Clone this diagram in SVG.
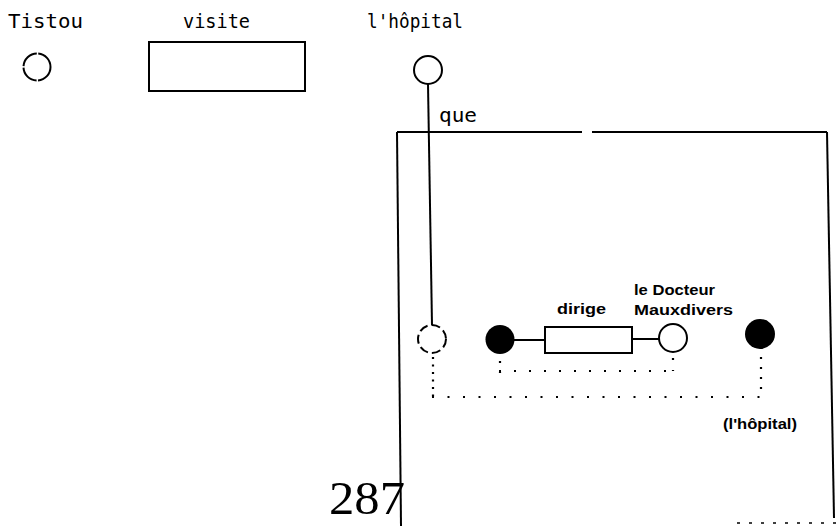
<svg xmlns="http://www.w3.org/2000/svg" width="838" height="526" viewBox="0 0 838 526">
<style>
.lbl{font-family:"DejaVu Sans Mono","Liberation Mono",monospace;font-size:20px;fill:#000}
.sm{font-family:"Liberation Sans",Arial,sans-serif;font-size:15px;font-weight:bold;fill:#000}
.ln{stroke:#000;stroke-width:2;fill:none}
.dot{stroke:#000;stroke-width:2.2;fill:none;stroke-linecap:butt}
</style>
<rect width="838" height="526" fill="#fff"/>
<g id="tistou">
<text class="lbl" x="8" y="28" textLength="75" lengthAdjust="spacingAndGlyphs">Tistou</text>
<circle class="ln" cx="37" cy="67" r="13.5" stroke-dasharray="20 1.5"/>
</g>
<g id="visite">
<text class="lbl" x="183" y="28" textLength="67" lengthAdjust="spacingAndGlyphs">visite</text>
<rect class="ln" x="149" y="42" width="156" height="49"/>
</g>
<g id="hopital">
<text class="lbl" x="367" y="28" textLength="96" lengthAdjust="spacingAndGlyphs">l'hôpital</text>
<circle class="ln" cx="428" cy="70" r="14"/>
</g>
<g id="context">
<text class="lbl" x="439" y="122" font-size="18" textLength="38" lengthAdjust="spacingAndGlyphs">que</text>
<path class="ln" d="M397,132 H582 M592,132 H827"/>
<path class="ln" d="M397,132 L401,526"/>
<path class="ln" d="M827,132 L834,518"/>
</g>
<g id="ref">
<circle class="ln" cx="432" cy="339" r="14" stroke-dasharray="9 4"/>
</g>
<g id="x1">
<circle cx="500" cy="339.5" r="14.5" fill="#000"/>
</g>
<g id="dirige">
<text class="sm" x="557" y="314" textLength="49" lengthAdjust="spacingAndGlyphs">dirige</text>
<rect class="ln" x="545" y="327" width="87" height="26"/>
</g>
<g id="docteur">
<text class="sm" x="634" y="295" textLength="81" lengthAdjust="spacingAndGlyphs">le Docteur</text>
<text class="sm" x="634" y="315" textLength="99" lengthAdjust="spacingAndGlyphs">Mauxdivers</text>
<circle class="ln" cx="673" cy="338" r="14"/>
</g>
<g id="x2">
<circle cx="760" cy="334" r="15" fill="#000"/>
<text class="sm" x="723" y="429" textLength="74" lengthAdjust="spacingAndGlyphs">(l'hôpital)</text>
</g>
<g id="connectors">
<line class="ln" x1="428" y1="84" x2="432" y2="325"/>
<line class="ln" x1="514" y1="340" x2="545" y2="340"/>
<line class="ln" x1="632" y1="339" x2="659" y2="339"/>
<path class="dot" d="M433,357 V399" stroke-dasharray="2 5.5"/>
<path class="dot" d="M432,397 H763" stroke-dasharray="2 13.5"/>
<path class="dot" d="M761,357 V396" stroke-dasharray="2 8"/>
<path class="dot" d="M500,361 V373" stroke-dasharray="2 9"/>
<path class="dot" d="M499,371 H675" stroke-dasharray="2 13"/>
<path class="dot" d="M673,358 V371" stroke-dasharray="2 10"/>
</g>
<g id="page">
<text x="329" y="514" font-family="'Liberation Serif','Times New Roman',serif" font-size="46" textLength="76" lengthAdjust="spacingAndGlyphs">287</text>
<path d="M737,523 H838" stroke="#000" stroke-width="1.5" stroke-dasharray="3 9"/>
</g>
</svg>
